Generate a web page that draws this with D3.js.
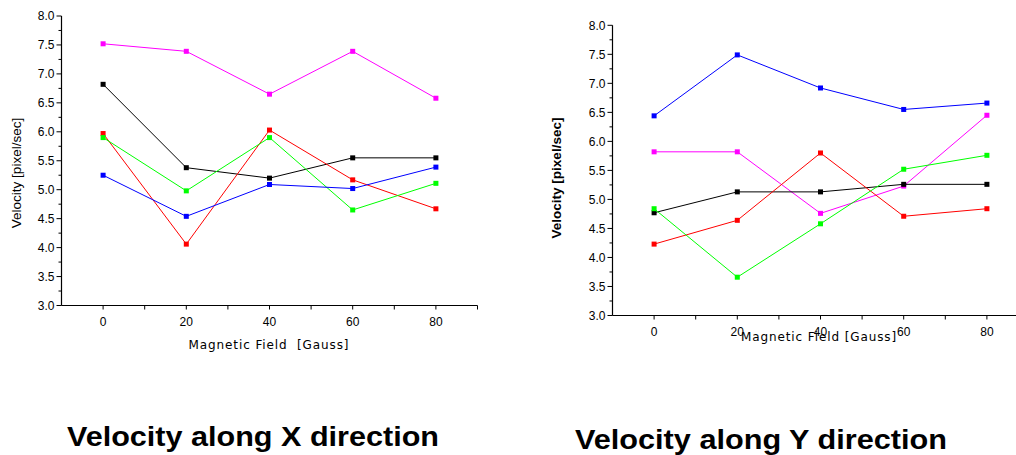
<!DOCTYPE html>
<html>
<head>
<meta charset="utf-8">
<script src="https://cdn.jsdelivr.net/npm/d3@7"></script>
<style>
  body { margin: 0; background: #fff; }
  svg { display: block; }
</style>
</head>
<body>
<div id="chart"></div>
<script>
// Magnetic field values (Gauss)
const fields = [0, 20, 40, 60, 80];

// Velocity along X direction (pixel/sec)
const xMagenta = [7.52, 7.39, 6.65, 7.39, 6.58];
const xBlack   = [6.82, 5.38, 5.20, 5.55, 5.55];
const xRed     = [5.97, 4.06, 6.03, 5.17, 4.67];
const xGreen   = [5.90, 4.98, 5.90, 4.65, 5.11];
const xBlue    = [5.25, 4.54, 5.09, 5.02, 5.39];

// Velocity along Y direction (pixel/sec)
const yBlue    = [6.44, 7.49, 6.92, 6.55, 6.66];
const yMagenta = [5.82, 5.82, 4.76, 5.23, 6.45];
const yBlack   = [4.77, 5.13, 5.13, 5.26, 5.26];
const yRed     = [4.23, 4.64, 5.80, 4.71, 4.84];
const yGreen   = [4.84, 3.66, 4.58, 5.52, 5.76];

const xTicks = [-10, 0, 10, 20, 30, 40, 50, 60, 70, 80, 90];
const yTicks = d3.range(3, 8.01, 0.25);

const svg = d3.select("#chart").append("svg")
    .attr("width", 1016)
    .attr("height", 455);

// draw one panel
function drawPanel(opts) {
    let g = svg.append("g");

    let x = d3.scaleLinear().domain([-10, 90]).range([opts.left, opts.left + 416]);
    let y = d3.scaleLinear().domain([3, 8]).range([opts.bottom, opts.top]);

    // y axis
    g.append("line")
        .attr("x1", x(-10)).attr("x2", x(-10))
        .attr("y1", y(3)).attr("y2", y(8))
        .attr("stroke", "#000").attr("stroke-width", 1.2);

    yTicks.forEach(t => {
        let major = Math.abs(t * 2 - Math.round(t * 2)) < 0.01;
        g.append("line")
            .attr("x1", x(-10) - (major ? 5 : 3)).attr("x2", x(-10))
            .attr("y1", y(t)).attr("y2", y(t))
            .attr("stroke", "#000");
        if (major) {
            g.append("text")
                .attr("x", x(-10) - 7)
                .attr("y", y(t))
                .attr("dy", "0.35em")
                .attr("text-anchor", "end")
                .style("font-family", "Liberation Sans, Arial, sans-serif")
                .style("font-size", "12px")
                .text(d3.format(".1f")(t));
        }
    });

    // x axis
    g.append("line")
        .attr("x1", x(-10)).attr("x2", x(90))
        .attr("y1", y(3)).attr("y2", y(3))
        .attr("stroke", "#000").attr("stroke-width", 1.2);

    xTicks.filter(t => t > -10).forEach(t => {
        g.append("line")
            .attr("x1", x(t)).attr("x2", x(t))
            .attr("y1", y(3)).attr("y2", y(3) + 4)
            .attr("stroke", "#000");
    });

    fields.forEach(t => {
        g.append("text")
            .attr("x", x(t))
            .attr("y", y(3) + 16)
            .attr("dy", "0.35em")
            .attr("text-anchor", "middle")
            .style("font-family", "Liberation Sans, Arial, sans-serif")
            .style("font-size", "12px")
            .text(t);
    });

    // axis titles
    g.append("text")
        .attr("x", opts.xLabelX)
        .attr("y", opts.xLabelY)
        .attr("text-anchor", "middle")
        .style("font-family", "DejaVu Sans, Verdana, sans-serif")
        .style("font-size", "12px")
        .style("letter-spacing", "0.9px")
        .style("white-space", "pre")
        .text(opts.xLabel);

    g.append("text")
        .attr("transform", "translate(" + opts.yLabelX + "," + opts.yLabelY + ") rotate(-90)")
        .attr("text-anchor", "middle")
        .style("font-family", "Liberation Sans, Arial, sans-serif")
        .style("font-size", "13.5px")
        .style("font-weight", opts.yLabelBold ? "bold" : "normal")
        .text("Velocity [pixel/sec]");

    // series
    let line = d3.line()
        .x((d, i) => x(fields[i]))
        .y(d => y(d));

    opts.series.forEach(s => {
        g.append("path")
            .datum(s.values)
            .attr("fill", "none")
            .attr("stroke", s.color)
            .attr("stroke-width", 1)
            .attr("d", line);

        g.selectAll(null)
            .data(s.values)
            .enter()
            .append("rect")
            .attr("x", (d, i) => x(fields[i]) - 2.5)
            .attr("y", d => y(d) - 2.5)
            .attr("width", 5)
            .attr("height", 5)
            .attr("fill", s.color);
    });

    // panel title
    svg.append("text")
        .attr("x", opts.titleX)
        .attr("y", opts.titleY)
        .attr("textLength", 372)
        .attr("lengthAdjust", "spacingAndGlyphs")
        .style("font-family", "Liberation Sans Narrow, Liberation Sans, Arial, sans-serif")
        .style("font-weight", "bold")
        .style("font-size", "27px")
        .text(opts.title);
}

drawPanel({
    left: 61.5, top: 16, bottom: 305.5,
    xLabel: "Magnetic Field  [Gauss]", xLabelX: 269, xLabelY: 349,
    yLabelX: 21, yLabelY: 173, yLabelBold: false,
    title: "Velocity along X direction", titleX: 67, titleY: 446,
    series: [
        { color: "#ff00ff", values: xMagenta },
        { color: "#000000", values: xBlack },
        { color: "#ff0000", values: xRed },
        { color: "#00ff00", values: xGreen },
        { color: "#0000ff", values: xBlue }
    ]
});

drawPanel({
    left: 612.5, top: 25.3, bottom: 315.5,
    xLabel: "Magnetic Field [Gauss]", xLabelX: 819, xLabelY: 341,
    yLabelX: 561, yLabelY: 178, yLabelBold: true,
    title: "Velocity along Y direction", titleX: 575, titleY: 449,
    series: [
        { color: "#0000ff", values: yBlue },
        { color: "#ff00ff", values: yMagenta },
        { color: "#000000", values: yBlack },
        { color: "#ff0000", values: yRed },
        { color: "#00ff00", values: yGreen }
    ]
});
</script>
</body>
</html>
